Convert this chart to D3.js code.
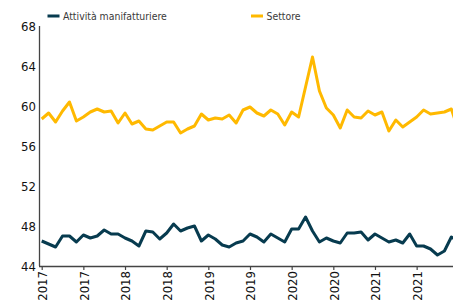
<!DOCTYPE html>
<html>
<head>
<meta charset="utf-8">
<script src="https://cdn.jsdelivr.net/npm/d3@7"></script>
<style>
  html, body { margin: 0; padding: 0; background: #fff; }
  svg { display: block; }
</style>
</head>
<body>
<div id="chart"></div>
<script>
/* monthly series, Jan 2017 → Jan 2022 (61 points) */
const manifatturiere = [
  46.5, 46.2, 45.9, 47.0, 47.0, 46.4, 47.1, 46.8, 47.0, 47.6,
  47.2, 47.2, 46.8, 46.5, 46.0, 47.5, 47.4, 46.7, 47.3, 48.2,
  47.5, 47.8, 48.0, 46.5, 47.1, 46.7, 46.1, 45.9, 46.3, 46.5,
  47.2, 46.9, 46.4, 47.2, 46.8, 46.4, 47.7, 47.7, 48.9, 47.5,
  46.4, 46.8, 46.5, 46.3, 47.3, 47.3, 47.4, 46.6, 47.2, 46.8,
  46.4, 46.6, 46.3, 47.2, 46.0, 46.0, 45.7, 45.1, 45.5, 46.9,
  46.5
];
const settore = [
  58.7, 59.3, 58.4, 59.5, 60.4, 58.5, 58.9, 59.4, 59.7, 59.4,
  59.5, 58.3, 59.3, 58.2, 58.5, 57.7, 57.6, 58.0, 58.4, 58.4,
  57.3, 57.7, 58.0, 59.2, 58.6, 58.8, 58.7, 59.1, 58.3, 59.6,
  59.9, 59.3, 59.0, 59.6, 59.2, 58.1, 59.4, 58.9, 61.9, 64.9,
  61.5, 59.8, 59.1, 57.8, 59.6, 58.9, 58.8, 59.5, 59.1, 59.4,
  57.5, 58.6, 57.9, 58.4, 58.9, 59.6, 59.2, 59.3, 59.4, 59.7,
  57.6
];
const xTickIdx    = [0, 6, 12, 18, 24, 30, 36, 42, 48, 54, 60];
const xTickLabels = ['2017', '2017', '2018', '2018', '2019', '2019',
                     '2020', '2020', '2021', '2021', '2022'];
const yTicks = [44, 48, 52, 56, 60, 64, 68];
const seriesNames = ['Attività manifatturiere', 'Settore'];

const W = 453, H = 302;
const COLORS = ['#073b4f', '#ffb900'];
const FONT = "'DejaVu Sans Condensed', 'DejaVu Sans', sans-serif";

const svg = d3.select('#chart').append('svg')
  .attr('width', W).attr('height', H)
  .attr('viewBox', `0 0 ${W} ${H}`);

const x = d3.scaleLinear().domain([0, 60]).range([41.7, 458.3]);
const y = d3.scaleLinear().domain([44, 68]).range([266, 26]);

/* Y axis */
const yAxis = svg.append('g')
  .attr('transform', 'translate(39,0)')
  .call(d3.axisLeft(y).tickValues(yTicks).tickSize(0).tickPadding(3).tickFormat(d3.format('d')));
yAxis.select('.domain').attr('stroke', '#444').attr('stroke-width', 1.3)
  .attr('d', `M0.5,${y(68)}V${y(44)}`);
yAxis.selectAll('text')
  .attr('font-family', FONT).attr('font-size', 13).attr('fill', '#111');

/* X axis — last label is cut by the right edge, as in the source */
const xAxis = svg.append('g')
  .attr('transform', 'translate(0,266)')
  .call(d3.axisBottom(x).tickValues(xTickIdx).tickSize(4)
    .tickFormat((d, i) => xTickLabels[i]));
xAxis.select('.domain').attr('stroke', '#444').attr('stroke-width', 1.3)
  .attr('d', `M39,0.5H${W}`);
xAxis.selectAll('.tick line').attr('stroke', '#444').attr('stroke-width', 1.2);
xAxis.selectAll('text')
  .attr('font-family', FONT).attr('font-size', 13).attr('fill', '#111')
  .attr('transform', 'rotate(-90)')
  .attr('text-anchor', 'end')
  .attr('x', -5).attr('y', 0).attr('dy', '0.36em');

/* Lines */
const line = d3.line().x((d, i) => x(i)).y(d => y(d));
[manifatturiere, settore].forEach((s, k) => {
  svg.append('path')
    .datum(s)
    .attr('d', line)
    .attr('fill', 'none')
    .attr('stroke', COLORS[k])
    .attr('stroke-width', 3)
    .attr('stroke-linejoin', 'round');
});

/* Legend */
const legendX = [47.5, 251];
seriesNames.forEach((name, k) => {
  const g = svg.append('g').attr('transform', `translate(${legendX[k]},16)`);
  g.append('rect')
    .attr('x', 0).attr('y', -1.5)
    .attr('width', 12).attr('height', 3)
    .attr('fill', COLORS[k]);
  g.append('text')
    .attr('x', 15.5).attr('y', 0).attr('dy', '0.35em')
    .attr('font-family', FONT).attr('font-size', 10.4).attr('fill', '#3a3a3a')
    .text(name);
});
</script>
</body>
</html>
